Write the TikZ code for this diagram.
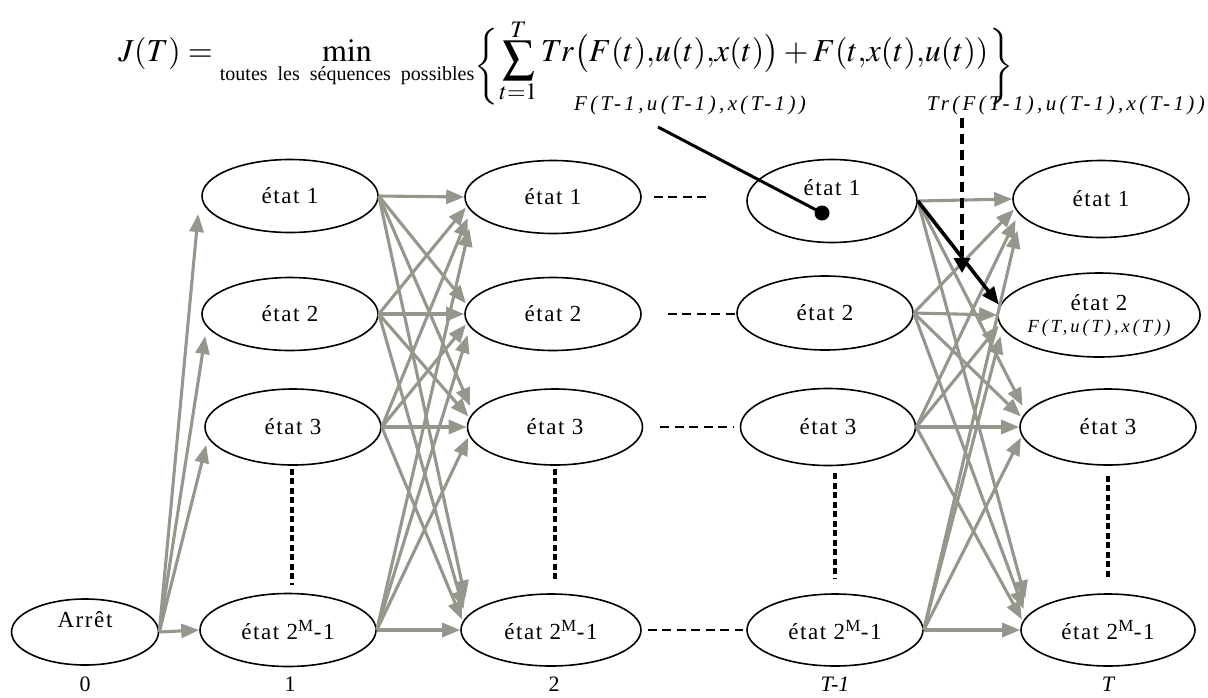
\documentclass[tikz,border=0pt]{standalone}
\usepackage{mathptmx}
\usepackage{fontspec}
\setmainfont{Liberation Serif}
\newfontfamily\etatfont[LetterSpace=7]{Liberation Serif}
\newfontfamily\labfont[LetterSpace=16]{Liberation Serif}
\usetikzlibrary{shapes.geometric,arrows.meta,calc}
\definecolor{agray}{RGB}{150,150,140}
\newcommand{\mcomma}{\mathord{,}}
\newcommand{\bigbrl}{\mathopen{\raisebox{-14pt}{$\displaystyle\left\{\vcenter{\hbox{\rule{0pt}{72pt}}}\right.$}}}
\newcommand{\bigbrr}{\mathclose{\raisebox{-14pt}{$\displaystyle\left.\vcenter{\hbox{\rule{0pt}{72pt}}}\right\}$}}}
\newcommand{\lowsum}{\mathop{\raisebox{-8pt}{$\displaystyle\sum_{\raisebox{0pt}[3pt][0pt]{$\scriptstyle t=1$}}^{\raisebox{-8pt}[\height][0pt]{$\scriptstyle T$}}$}}}
\begin{document}
\begin{tikzpicture}[x=1pt,y=-1pt,
  st/.style={ellipse, draw, line width=1.6pt, inner sep=0pt, minimum width=176pt, minimum height=73pt, font=\etatfont\fontsize{23}{26}\selectfont},
  garr/.style={draw=agray, line width=3.1pt, -{Triangle[length=18pt,width=14pt]}},
  barr/.style={draw=black, line width=3.6pt, -{Triangle[length=17pt,width=14pt]}},
  dsh/.style={draw=black, line width=2.5pt, dash pattern=on 9pt off 5.5pt},
  dtt/.style={draw=black, line width=3.3pt, dash pattern=on 6pt off 3.5pt},
  lab/.style={font=\labfont\itshape\fontsize{21}{24}\selectfont, inner sep=0pt},
  axl/.style={font=\fontsize{22}{24}\selectfont, inner sep=0pt}]
\useasboundingbox (0,0) rectangle (1208,697);

% formula
\node[font=\fontsize{32}{38}\selectfont, inner sep=0pt, anchor=base] (formula) at (566,61) {$\displaystyle J(T) = \min_{\mbox{\fontsize{20}{21}\selectfont toutes\ \ les\ \ séquences\ \ possibles}} \bigbrl\lowsum Tr\bigl(F(t)\mcomma u(t)\mcomma x(t)\bigr) + F(t\mcomma x(t)\mcomma u(t))\bigbrr$};

% states
\node[st, minimum width=147pt, minimum height=66pt] (arret) at (85,632) {\raisebox{5pt}[0pt][0pt]{Arrêt}};

\node[st] (c1r1) at (290,196) {état 1};
\node[st] (c1r2) at (290,314) {état 2};
\node[st, minimum height=76pt] (c1r3) at (293,427) {état 3};
\node[st] (c1r4) at (288,630) {état 2\textsuperscript{M}-1};

\node[st] (c2r1) at (553,197) {état 1};
\node[st] (c2r2) at (553,314) {état 2};
\node[st, minimum width=175pt, minimum height=76pt] (c2r3) at (555,427) {état 3};
\node[st, minimum width=180pt, minimum height=72pt] (c2r4) at (551,630) {état 2\textsuperscript{M}-1};

\node[st, minimum width=170pt, minimum height=83pt] (c3r1) at (832,201) {\raisebox{6pt}[0pt][0pt]{état 1}};
\node[st, minimum height=74pt] (c3r2) at (825,313) {état 2};
\node[st, minimum width=175pt, minimum height=77pt] (c3r3) at (828,427) {état 3};
\node[st, minimum height=72pt] (c3r4) at (835,630) {état 2\textsuperscript{M}-1};

\node[st, minimum height=77pt] (c4r1) at (1101,199) {état 1};
\node[st, minimum width=188pt, minimum height=84pt, align=center] (c4r2) at (1099,315) {état 2\\[-4pt]{\labfont\itshape\fontsize{18.5}{20}\selectfont F(T,u(T),x(T))}};
\node[st, minimum height=76pt] (c4r3) at (1108,427) {état 3};
\node[st, minimum width=174pt, minimum height=72pt] (c4r4) at (1108,630) {état 2\textsuperscript{M}-1};

% axis labels
\node[axl] (l0) at (85,684) {0};
\node[axl] (l1) at (290,684) {1};
\node[axl] (l2) at (554,684) {2};
\node[axl] (l3) at (835,684) {\itshape T-1};
\node[axl] (l4) at (1108,684) {\itshape T};

% dotted verticals
\draw[dtt] ($(c1r3.south)+(-1,3)$) -- ($(c1r3.south |- c1r4.north)+(-1,-8)$);
\draw[dtt] ($(c2r3.south)+(0,3)$) -- ($(c2r3.south |- c2r4.north)+(0,-11)$);
\draw[dtt] ($(c3r4.north |- c3r3.south)+(0,7)$) -- ($(c3r4.north)+(0,-14)$);
\draw[dtt] ($(c4r4.north |- c4r3.south)+(0,10)$) -- ($(c4r4.north)+(0,-14)$);

% dashed horizontals
\draw[dsh] ($(c2r1.east)+(12,0)$) -- ($(c2r1.east -| c3r1.west)+(-35,0)$);
\draw[dsh] ($(c2r2.east)+(26,0)$) -- (c2r2.east -| c3r2.west);
\draw[dsh] ($(c2r3.east)+(17,0)$) -- ($(c2r3.east -| c3r3.west)+(-6,0)$);
\draw[dsh] ($(c2r4.east)+(6,0)$) -- ($(c2r4.east -| c3r4.west)+(-3,0)$);

% arrows from Arret
\draw[garr] (arret.east) -- ($(c1r1.west)+(-3,18)$);
\draw[garr] (arret.east) -- ($(c1r2.west)+(4,22)$);
\draw[garr] (arret.east) -- ($(c1r3.west)+(2,18)$);
\draw[garr] (arret.east) -- (c1r4.west);

% transitions
\foreach \a/\b in {c1/c2, c3/c4}{
  \foreach \s in {1,...,4}{
    \foreach \t in {1,...,4}{
      \pgfmathsetmacro\dy{10.5*(\s-\t)}
      \pgfmathsetmacro\dx{1.7*abs(\s-\t)}
      \draw[garr] (\a r\s.east) -- ($(\b r\t.west)+(\dx,\dy)$);
    }
  }
}
\draw[barr] (c3r1.east) -- ($(c4r2.west)+(1.7,-10.5)$);

% annotations
\node[lab] (flab) at (690,105) {F(T-1,u(T-1),x(T-1))};
\node[lab, anchor=east] (tlab) at (1205,105) {Tr(F(T-1),u(T-1),x(T-1))};
\coordinate (fstart) at (658,127);
\node[circle, fill=black, inner sep=0pt, minimum size=15pt] (dot) at (822,213) {};
\draw[line width=3pt] (fstart) -- (dot.center);
\coordinate (tstart) at (962,118);
\coordinate (tend) at (962,273);
\draw[line width=3.5pt, dash pattern=on 10pt off 6pt, -{Triangle[length=15pt,width=16pt]}] (tstart) -- (tend);
\end{tikzpicture}
\end{document}
